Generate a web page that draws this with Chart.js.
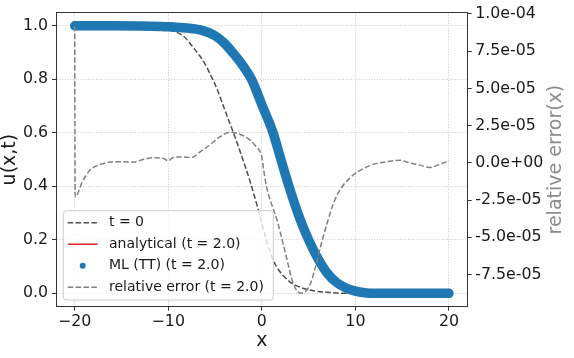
<!DOCTYPE html>
<html>
<head>
<meta charset="utf-8">
<title>u(x,t) at t = 2.0</title>
<script src="https://cdn.jsdelivr.net/npm/chart.js@4.4.1/dist/chart.umd.min.js"></script>
<style>
  html, body { margin: 0; padding: 0; background: #fff; }
  #wrap { width: 574px; height: 358px; }
</style>
</head>
<body>
<div id="wrap"><canvas id="chart" width="574" height="358"></canvas></div>
<script>
// Tick values and labels
const xTicks = [-20, -10, 0, 10, 20]
const xTickLabels = ["−20", "−10", "0", "10", "20"]
const uTicks = [0, 0.2, 0.4, 0.6, 0.8, 1.0]
const uTickLabels = ["0.0", "0.2", "0.4", "0.6", "0.8", "1.0"]
const errTicks = [-7.5e-5, -5e-5, -2.5e-5, 0, 2.5e-5, 5e-5, 7.5e-5, 1e-4]
const errTickLabels = ["-7.5e-05", "-5.0e-05", "-2.5e-05", "0.0e+00", "2.5e-05", "5.0e-05", "7.5e-05", "1.0e-04"]

// Initial condition (t = 0)
const t0X = [-20, -15, -12, -10.1, -8.4, -7.3, -6.2, -5.5, -4.8, -4.3, -3.6, -3.0, -2.5, -1.8, -1.2, -0.5, 0, 0.5, 1.0, 1.5, 2.0, 3.0, 4.0, 5.0, 6.0, 7.0, 8.0, 9.0, 20]
const t0U = [1.0, 1.0, 0.996, 0.986, 0.962, 0.918, 0.865, 0.818, 0.765, 0.718, 0.652, 0.597, 0.548, 0.477, 0.412, 0.327, 0.262, 0.197, 0.142, 0.104, 0.078, 0.043, 0.024, 0.013, 0.007, 0.004, 0.001, 0, 0]

// Solution at t = 2.0 (the ML points sit right on the analytical curve)
const solX = [-20, -16, -12, -10, -8, -6.5, -5, -4, -3, -2, -1.1, 0, 1.2, 2.0, 2.9, 4.0, 5.0, 6.0, 7.0, 8.0, 9.0, 10.0, 11.0, 12.0, 20]
const analyticalU = [1.0, 1.0, 0.999, 0.997, 0.992, 0.984, 0.963, 0.935, 0.895, 0.85, 0.8, 0.705, 0.6, 0.505, 0.4, 0.285, 0.2, 0.13, 0.075, 0.04, 0.02, 0.008, 0.002, 0, 0]
const mlU = [1.0, 1.0, 0.999, 0.997, 0.992, 0.984, 0.963, 0.935, 0.895, 0.85, 0.8, 0.705, 0.6, 0.505, 0.4, 0.285, 0.2, 0.13, 0.075, 0.04, 0.02, 0.008, 0.002, 0, 0]

// Relative error (right axis)
const errX = [-20, -19.95, -19.2, -18.4, -17.9, -16.9, -15.9, -14.8, -13.7, -12.7, -11.6, -10.5, -10.0, -9.5, -8.4, -7.5, -6.6, -5.6, -4.5, -3.45, -2.55, -1.5, -0.6, 0, 0.2, 0.5, 1.0, 1.6, 2.3, 2.8, 3.2, 3.7, 4.3, 4.8, 5.2, 5.6, 6.0, 6.5, 7.0, 7.5, 8.0, 8.7, 9.7, 10.8, 12.2, 13.3, 14.7, 15.8, 16.9, 17.9, 18.8, 20]
const errE = [9.2e-5, -2.28e-5, -1.3e-5, -0.5e-5, -0.27e-5, -0.04e-5, 0.07e-5, 0.08e-5, 0.05e-5, 0.23e-5, 0.34e-5, 0.3e-5, 0.13e-5, 0.36e-5, 0.4e-5, 0.36e-5, 0.74e-5, 1.19e-5, 1.75e-5, 2.04e-5, 1.97e-5, 1.64e-5, 1.08e-5, 0.4e-5, -0.5e-5, -1.6e-5, -2.7e-5, -3.8e-5, -5.5e-5, -6.8e-5, -7.8e-5, -8.55e-5, -8.76e-5, -8.55e-5, -8.1e-5, -7.3e-5, -6.3e-5, -5.1e-5, -4.0e-5, -3.0e-5, -2.2e-5, -1.5e-5, -0.85e-5, -0.4e-5, -0.05e-5, 0.07e-5, 0.18e-5, 0.0, -0.15e-5, -0.31e-5, -0.15e-5, 0.15e-5]

// Styles
const FONT = "DejaVu Sans"
const TEXT = "#1a1a1a"
const SPINE = "#333333"
const GRID = "#bdbdbd"
const DASH = [5.5, 2.4]

// Build {x, y} points from two arrays
function points(xs, ys) {
  return xs.map((x, i) => ({ x: x, y: ys[i] }))
}

// Force ticks onto the given values
function fixedTicks(values) {
  return (scale) => {
    scale.ticks = values.map((v) => ({ value: v }))
  }
}

// Right axis title, rotated like the left one (reads bottom to top)
function drawRightTitle(chart) {
  const { ctx, chartArea } = chart
  ctx.save()
  ctx.translate(chart.width - 18, (chartArea.top + chartArea.bottom) / 2)
  ctx.rotate(-Math.PI / 2)
  ctx.font = "19px '" + FONT + "'"
  ctx.fillStyle = "#8c8c8c"
  ctx.textAlign = "center"
  ctx.textBaseline = "middle"
  ctx.fillText("relative error(x)", 0, 0)
  ctx.restore()
}

// Legend box in the lower left corner of the plot
function drawLegend(chart) {
  const { ctx, chartArea } = chart
  const left = chartArea.left + 7.3
  const bottom = chartArea.bottom - 6.7
  const width = 210
  const height = 89.3
  const top = bottom - height

  ctx.save()
  ctx.beginPath()
  ctx.roundRect(left, top, width, height, 3)
  ctx.fillStyle = "rgba(255,255,255,0.8)"
  ctx.fill()
  ctx.strokeStyle = "#cccccc"
  ctx.lineWidth = 1
  ctx.stroke()

  ctx.font = "14px '" + FONT + "'"
  ctx.textAlign = "left"
  ctx.textBaseline = "middle"

  chart.data.datasets.forEach((ds, i) => {
    const y = top + 12 + i * 21.5
    if (ds.legendKind === "dot") {
      ctx.beginPath()
      ctx.arc(left + 19.4, y, 3, 0, Math.PI * 2)
      ctx.fillStyle = ds.borderColor
      ctx.fill()
    } else {
      ctx.beginPath()
      ctx.setLineDash(ds.borderDash || [])
      ctx.moveTo(left + 4.4, y)
      ctx.lineTo(left + 34.4, y)
      ctx.strokeStyle = ds.borderColor
      ctx.lineWidth = 1.5
      ctx.stroke()
      ctx.setLineDash([])
    }
    ctx.fillStyle = TEXT
    ctx.fillText(ds.label, left + 45.7, y)
  })
  ctx.restore()
}

// Top spine, right title and legend
const decorations = {
  id: "decorations",
  afterDatasetsDraw(chart) {
    const { ctx, chartArea } = chart
    ctx.save()
    ctx.strokeStyle = SPINE
    ctx.lineWidth = 1
    ctx.beginPath()
    ctx.moveTo(chartArea.left, chartArea.top)
    ctx.lineTo(chartArea.right, chartArea.top)
    ctx.stroke()
    ctx.restore()
  },
  afterDraw(chart) {
    drawRightTitle(chart)
    drawLegend(chart)
  },
}

const tickFont = { family: FONT, size: 15.8, lineHeight: 1 }
const titleFont = { family: FONT, size: 19, lineHeight: 1 }

new Chart(document.getElementById("chart"), {
  type: "line",
  data: {
    datasets: [
      {
        label: "t = 0",
        data: points(t0X, t0U),
        borderColor: "#4d4d4d",
        borderWidth: 1.5,
        borderDash: DASH,
        pointRadius: 0,
        cubicInterpolationMode: "monotone",
        yAxisID: "y",
        order: 3,
      },
      {
        label: "analytical (t = 2.0)",
        data: points(solX, analyticalU),
        borderColor: "#d62728",
        borderWidth: 1.5,
        pointRadius: 0,
        cubicInterpolationMode: "monotone",
        yAxisID: "y",
        order: 2,
      },
      {
        label: "ML (TT) (t = 2.0)",
        legendKind: "dot",
        data: points(solX, mlU),
        borderColor: "#1f77b4",
        borderWidth: 9.5,
        borderCapStyle: "round",
        borderJoinStyle: "round",
        pointRadius: 0,
        cubicInterpolationMode: "monotone",
        yAxisID: "y",
        order: 1,
      },
      {
        label: "relative error (t = 2.0)",
        data: points(errX, errE),
        borderColor: "#808080",
        borderWidth: 1.5,
        borderDash: DASH,
        pointRadius: 0,
        cubicInterpolationMode: "monotone",
        yAxisID: "err",
        order: 0,
      },
    ],
  },
  options: {
    responsive: false,
    animation: false,
    devicePixelRatio: 1,
    events: [],
    layout: { padding: { top: 12.5, left: 0, right: 0, bottom: 0 } },
    plugins: {
      legend: { display: false },
      tooltip: { enabled: false },
    },
    scales: {
      x: {
        type: "linear",
        min: -22,
        max: 22,
        afterBuildTicks: fixedTicks(xTicks),
        afterFit: (scale) => { scale.height = 51.3 },
        ticks: {
          callback: (value, index) => xTickLabels[index],
          font: tickFont,
          color: TEXT,
          padding: 3,
          maxRotation: 0,
          autoSkip: false,
        },
        grid: { color: GRID, lineWidth: 0.8, tickLength: 4, tickColor: SPINE, tickWidth: 1 },
        border: { color: SPINE, width: 1, dash: [1, 1.6] },
        title: { display: true, text: "x", font: titleFont, color: TEXT, padding: { top: 0, bottom: 7 } },
      },
      y: {
        type: "linear",
        position: "left",
        min: -0.05,
        max: 1.05,
        afterBuildTicks: fixedTicks(uTicks),
        afterFit: (scale) => { scale.width = 56 },
        ticks: {
          callback: (value, index) => uTickLabels[index],
          font: tickFont,
          color: TEXT,
          padding: 4,
        },
        grid: { color: GRID, lineWidth: 0.8, tickLength: 4, tickColor: SPINE, tickWidth: 1 },
        border: { color: SPINE, width: 1, dash: [1, 1.6] },
        title: { display: true, text: "u(x,t)", font: titleFont, color: TEXT, padding: { top: 0.5, bottom: 0 } },
      },
      err: {
        type: "linear",
        position: "right",
        min: -9.66e-5,
        max: 1.01e-4,
        afterBuildTicks: fixedTicks(errTicks),
        afterFit: (scale) => { scale.width = 106.3 },
        ticks: {
          callback: (value, index) => errTickLabels[index],
          font: tickFont,
          color: TEXT,
          padding: 3.5,
        },
        grid: { drawOnChartArea: false, tickLength: 4, tickColor: SPINE, tickWidth: 1 },
        border: { color: SPINE, width: 1 },
      },
    },
  },
  plugins: [decorations],
})
</script>
</body>
</html>
